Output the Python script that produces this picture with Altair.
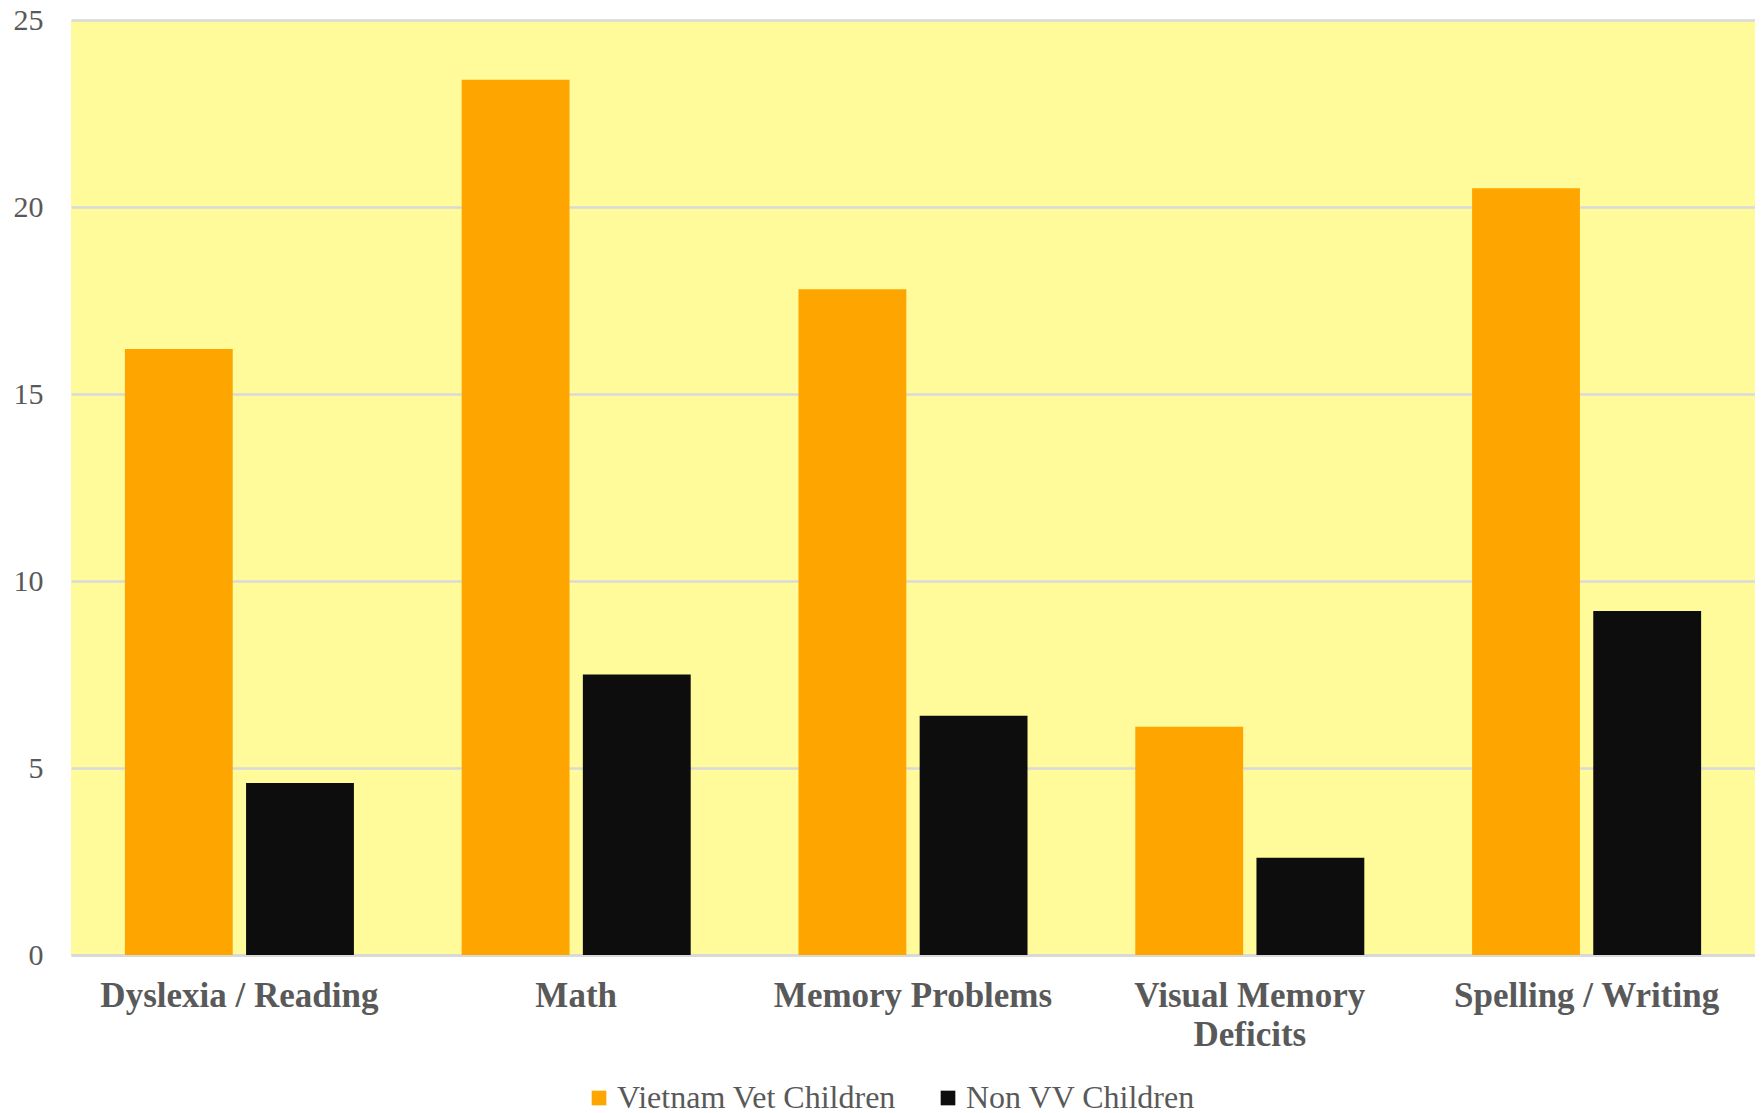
import altair as alt
import pandas as pd

categories = ["Dyslexia / Reading", "Math", "Memory Problems", "Visual Memory Deficits", "Spelling / Writing"]
series = ["Vietnam Vet Children", "Non VV Children"]
vv_values = [16.2, 23.4, 17.8, 6.1, 20.5]
non_vv_values = [4.6, 7.5, 6.4, 2.6, 9.2]
y_ticks = [0, 5, 10, 15, 20, 25]
colors = ["#FFA500", "#0D0D0D"]

rows = []
for c, a, b in zip(categories, vv_values, non_vv_values):
    rows.append({"category": c, "series": series[0], "value": a})
    rows.append({"category": c, "series": series[1], "value": b})
df = pd.DataFrame(rows)

FONT = "Liberation Serif"
TXT = "#595959"

label_expr = ("length(datum.label) > 20 ? "
              "[substring(datum.label, 0, lastindexof(datum.label, ' ')), "
              "substring(datum.label, lastindexof(datum.label, ' ') + 1)] : datum.label")

chart = alt.Chart(df).mark_bar().encode(
    x=alt.X("category:N", sort=categories,
            scale=alt.Scale(paddingInner=0.32, paddingOuter=0.16),
            axis=alt.Axis(title=None, labelAngle=0, labelFont=FONT, labelFontSize=35,
                          labelFontWeight="bold", labelColor=TXT, labelPadding=23,
                          labelLineHeight=39, labelLimit=500, ticks=False,
                          domainColor="#D9D9D9", domainWidth=3, labelExpr=label_expr)),
    xOffset=alt.XOffset("series:N", sort=series, scale=alt.Scale(paddingInner=0.11)),
    y=alt.Y("value:Q", scale=alt.Scale(domain=[0, 25]),
            axis=alt.Axis(title=None, values=y_ticks, domain=False, ticks=False,
                          gridColor="#D9D9D9", gridWidth=2.5, labelFont=FONT,
                          labelFontSize=30, labelColor=TXT, labelPadding=28,
                          labelFlush=False)),
    color=alt.Color("series:N", sort=series,
                    scale=alt.Scale(domain=series, range=colors),
                    legend=alt.Legend(title=None, orient="none", direction="horizontal",
                                      legendX=512, legendY=1062, symbolType="square",
                                      symbolSize=215, symbolStrokeWidth=0,
                                      labelFont=FONT, labelFontSize=32, labelColor=TXT,
                                      labelLimit=500, labelOffset=2, columnPadding=36)),
).properties(
    width=1684, height=935,
    background="white",
    autosize=alt.AutoSizeParams(type="none"),
    padding={"left": 63, "top": 12, "right": 0, "bottom": 160},
).configure_view(
    fill="#FFFA9A", stroke=None
)

chart.save("out.html", embed_options={"renderer": "svg", "actions": False})
